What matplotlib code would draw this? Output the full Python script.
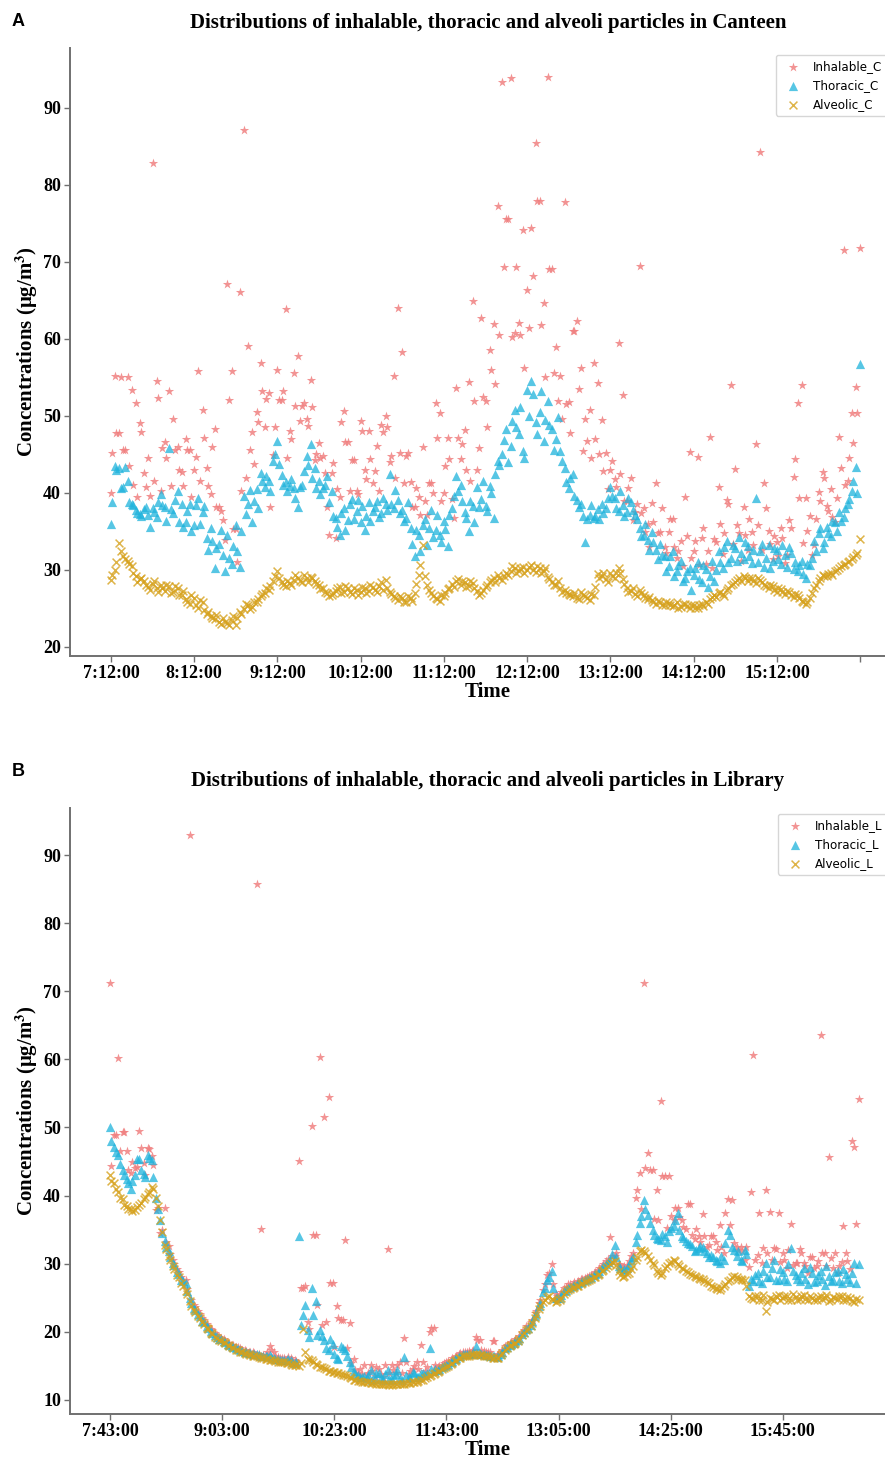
import matplotlib
matplotlib.use("Agg")
import matplotlib.pyplot as plt
import numpy as np

plt.rcParams["mathtext.fontset"] = "stix"

# ---- Canteen (A): readings every 3 samples (two interleaved passes), sample index 0..540
canteen_idx = list(range(0, 541, 3))
canteen_idx2 = list(range(1, 540, 3))

inhalable_c = [
    40.0, 55.2, 47.8, 45.6, 55.0, 53.4, 51.7, 49.1, 42.6, 44.5,
    82.9, 54.5, 40.2, 46.6, 53.3, 49.6, 46.0, 42.7, 47.0, 45.6,
    43.0, 55.8, 50.8, 43.2, 39.8, 48.3, 38.2, 36.5, 67.1, 55.8,
    35.3, 66.1, 87.1, 59.1, 47.9, 50.5, 56.9, 48.5, 53.0, 44.9,
    56.0, 52.1, 63.9, 48.0, 55.6, 57.8, 51.3, 49.6, 54.7, 44.3,
    46.5, 44.8, 38.2, 42.6, 34.2, 39.5, 50.6, 46.6, 44.3, 40.2,
    49.3, 43.0, 48.0, 41.3, 46.1, 48.8, 50.0, 44.0, 55.2, 64.0,
    58.3, 44.8, 41.4, 38.2, 39.5, 46.0, 37.1, 41.3, 51.7, 50.4,
    40.0, 47.2, 39.2, 53.6, 44.4, 48.2, 54.4, 64.9, 43.0, 62.7,
    52.0, 58.6, 61.9, 77.3, 93.4, 75.6, 93.9, 60.8, 62.1, 74.2,
    66.4, 74.4, 85.5, 77.9, 64.7, 94.0, 69.1, 59.0, 55.2, 77.8,
    51.8, 61.0, 62.3, 56.2, 49.6, 50.8, 56.9, 54.3, 49.5, 45.2,
    43.0, 41.8, 59.5, 52.7, 38.9, 42.0, 37.5, 69.5, 38.0, 36.0,
    38.7, 41.3, 34.9, 33.0, 34.9, 36.6, 31.5, 33.7, 39.5, 45.3,
    32.5, 44.7, 34.2, 30.8, 47.3, 34.0, 40.8, 32.1, 39.1, 54.0,
    43.1, 34.8, 38.2, 32.6, 34.9, 46.4, 84.3, 41.3, 35.1, 31.4,
    33.6, 35.5, 30.9, 36.5, 42.1, 51.7, 54.0, 39.4, 37.0, 33.2,
    40.1, 42.7, 38.3, 40.5, 36.2, 47.3, 71.6, 41.5, 50.4, 53.8,
    71.8,
]
inhalable_c2 = [
    45.2, 47.8, 55.0, 45.6, 43.5, 41.0, 39.5, 47.9, 40.8, 39.6,
    41.5, 52.3, 45.8, 44.6, 40.9, 45.6, 43.0, 40.9, 45.6, 39.5,
    44.7, 41.6, 47.2, 40.9, 46.0, 38.2, 37.6, 33.9, 52.1, 35.3,
    31.0, 40.2, 42.0, 45.6, 43.7, 49.2, 53.2, 52.2, 38.2, 48.5,
    52.1, 53.2, 44.6, 47.0, 51.3, 49.3, 51.7, 48.7, 51.2, 45.0,
    44.6, 42.6, 34.5, 43.9, 40.5, 49.2, 46.6, 40.2, 44.3, 39.8,
    48.0, 41.8, 44.4, 42.8, 40.2, 47.9, 48.5, 44.8, 42.0, 45.2,
    41.3, 45.2, 38.2, 40.6, 37.1, 39.0, 41.3, 40.0, 47.2, 39.0,
    43.5, 44.4, 36.8, 47.2, 46.4, 43.0, 41.6, 52.0, 45.8, 52.5,
    48.5, 56.0, 54.2, 60.5, 69.4, 75.6, 60.3, 69.4, 60.5, 56.2,
    61.4, 68.2, 77.9, 61.8, 55.0, 69.1, 55.6, 52.0, 49.6, 51.5,
    47.8, 61.0, 53.5, 45.4, 46.8, 44.6, 47.0, 45.0, 42.8, 40.5,
    44.2, 40.8, 42.5, 38.9, 40.6, 36.5, 38.6, 37.4, 34.9, 33.0,
    36.2, 34.8, 38.0, 32.2, 36.6, 33.0, 32.4, 30.5, 34.4, 31.5,
    33.8, 30.6, 35.4, 32.4, 30.2, 33.6, 36.0, 34.8, 38.6, 33.4,
    35.8, 31.2, 34.6, 36.6, 33.2, 35.8, 32.6, 38.0, 33.4, 34.4,
    31.8, 34.2, 32.0, 35.5, 44.4, 39.4, 33.5, 35.0, 32.0, 36.6,
    39.0, 42.0, 37.6, 36.9, 39.3, 43.2, 41.0, 44.6, 46.5, 50.4,
]

thoracic_c = [
    36.0, 43.5, 43.2, 40.8, 41.6, 38.6, 37.8, 37.3, 37.9, 37.2,
    38.0, 36.9, 39.8, 38.2, 45.8, 37.4, 40.2, 38.5, 36.2, 38.6,
    35.8, 39.3, 37.5, 34.2, 35.5, 30.2, 33.4, 32.0, 34.6, 30.8,
    35.8, 30.4, 39.6, 38.5, 36.2, 40.5, 42.6, 40.8, 41.6, 44.2,
    46.8, 42.3, 41.4, 40.9, 40.6, 38.2, 41.0, 44.8, 46.4, 43.2,
    41.5, 40.6, 42.2, 40.3, 36.8, 34.6, 38.1, 36.5, 39.2, 37.6,
    36.2, 35.2, 38.8, 37.6, 39.0, 37.4, 38.6, 42.4, 38.0, 39.1,
    37.8, 36.8, 35.5, 31.8, 34.5, 35.9, 33.2, 37.8, 35.2, 34.6,
    36.4, 33.1, 38.0, 42.2, 41.0, 37.5, 35.0, 38.3, 40.8, 39.2,
    38.3, 40.9, 36.8, 44.2, 45.0, 48.3, 46.1, 50.8, 47.6, 45.5,
    53.4, 54.5, 49.2, 50.5, 46.8, 52.0, 48.3, 47.0, 45.4, 43.2,
    40.6, 42.5, 39.1, 38.6, 33.6, 37.2, 36.8, 37.9, 38.5, 38.0,
    40.8, 39.3, 37.6, 38.4, 37.5, 38.8, 37.2, 35.5, 34.6, 33.9,
    34.9, 32.6, 33.4, 31.8, 30.5, 32.4, 29.8, 31.2, 28.9, 30.3,
    29.4, 31.0, 28.4, 30.1, 29.2, 28.6, 32.5, 30.2, 33.8, 31.6,
    32.9, 34.3, 31.4, 33.1, 30.9, 39.3, 32.4, 30.4, 33.2, 31.2,
    32.6, 30.8, 31.9, 33.0, 30.1, 29.8, 31.2, 29.0, 30.6, 33.8,
    34.8, 32.9, 35.6, 34.4, 36.2, 37.5, 36.9, 38.6, 40.2, 43.4,
    56.8,
]
thoracic_c2 = [
    38.8, 43.0, 40.6, 43.4, 38.8, 38.4, 37.4, 37.0, 38.2, 35.6,
    37.5, 38.8, 38.4, 36.4, 37.9, 39.1, 36.2, 35.6, 37.6, 35.0,
    38.4, 36.0, 38.3, 32.6, 33.8, 32.8, 35.2, 29.8, 31.6, 33.1,
    32.4, 35.0, 37.3, 40.4, 39.0, 38.0, 41.5, 42.2, 40.2, 45.0,
    43.8, 41.0, 40.2, 41.8, 39.4, 40.8, 42.9, 43.6, 41.9, 40.7,
    39.8, 41.0, 38.8, 37.0, 35.6, 37.4, 35.2, 38.6, 36.6, 39.1,
    38.3, 37.0, 36.4, 38.2, 36.9, 39.4, 37.8, 38.6, 40.4, 37.4,
    36.4, 38.8, 33.4, 35.2, 32.4, 36.6, 35.5, 34.3, 37.1, 33.6,
    35.3, 37.2, 39.6, 40.2, 39.0, 36.7, 38.9, 36.2, 38.2, 41.6,
    37.6, 40.0, 42.5, 43.6, 46.9, 44.0, 49.4, 48.6, 51.2, 44.6,
    50.0, 52.8, 47.7, 53.2, 49.5, 48.8, 45.6, 49.8, 44.2, 41.4,
    41.9, 39.6, 38.2, 37.0, 36.6, 38.4, 37.0, 36.6, 37.4, 39.4,
    39.6, 38.0, 40.2, 37.0, 39.4, 37.8, 36.6, 34.4, 36.0, 32.6,
    33.6, 31.4, 32.0, 29.8, 31.8, 29.2, 30.7, 28.6, 29.8, 27.4,
    30.2, 28.8, 30.6, 27.8, 31.2, 30.0, 31.0, 33.0, 31.0, 33.2,
    31.2, 32.2, 33.6, 31.8, 32.6, 31.0, 33.4, 31.6, 30.2, 32.8,
    31.4, 33.2, 30.4, 32.2, 31.0, 30.6, 29.5, 30.8, 31.6, 32.4,
    35.4, 33.6, 34.8, 36.4, 35.0, 36.4, 38.0, 39.2, 41.6, 40.0,
]

alveolic_c = [
    28.7, 30.0, 33.5, 31.8, 31.2, 30.5, 29.2, 28.8, 28.5, 27.8,
    28.2, 27.6, 28.0, 27.3, 27.9, 27.2, 27.6, 26.8, 26.2, 25.6,
    26.4, 25.0, 25.8, 24.3, 24.0, 23.6, 23.2, 23.8, 23.1, 23.5,
    22.9, 24.6, 24.9, 25.4, 25.2, 25.8, 26.6, 27.0, 27.4, 28.6,
    29.9, 28.4, 27.9, 28.3, 28.7, 29.0, 28.4, 28.9, 29.1, 28.6,
    28.0, 27.6, 27.0, 26.8, 27.3, 27.8, 27.2, 27.6, 26.9, 27.4,
    27.1, 27.6, 27.3, 27.8, 27.2, 28.4, 28.7, 27.2, 26.6, 26.1,
    26.4, 25.9, 26.3, 27.0, 29.4, 33.2, 28.0, 27.0, 26.4, 26.0,
    26.6, 27.5, 28.2, 28.5, 28.1, 28.4, 27.9, 28.3, 27.3, 27.0,
    27.8, 28.4, 28.9, 29.3, 28.7, 29.6, 29.9, 30.3, 29.8, 30.4,
    30.0, 30.6, 29.7, 30.2, 29.9, 29.1, 28.4, 28.0, 27.6, 27.4,
    26.9, 26.6, 26.4, 27.2, 26.6, 26.1, 26.8, 29.5, 29.2, 28.8,
    29.6, 29.0, 30.2, 28.8, 27.6, 27.3, 26.9, 27.4, 26.7, 26.2,
    26.1, 25.6, 25.9, 25.4, 25.7, 25.3, 25.8, 25.2, 25.6, 25.0,
    25.4, 25.1, 25.6, 25.9, 26.2, 26.8, 27.0, 26.9, 27.4, 28.0,
    28.4, 28.9, 29.2, 28.6, 28.9, 28.3, 28.7, 28.1, 27.6, 27.9,
    27.2, 27.5, 26.9, 27.2, 26.5, 26.7, 26.0, 25.6, 26.4, 27.6,
    28.6, 29.4, 29.2, 29.6, 29.9, 30.3, 30.7, 31.0, 31.4, 32.0,
    34.0,
]
alveolic_c2 = [
    29.4, 31.0, 32.4, 31.4, 30.8, 29.6, 28.4, 29.0, 28.1, 27.4,
    28.6, 27.2, 27.7, 28.1, 27.0, 27.9, 26.8, 27.3, 25.9, 26.8,
    25.4, 26.1, 24.8, 24.6, 23.7, 24.1, 23.0, 23.3, 22.8, 24.0,
    23.8, 24.3, 25.6, 24.9, 25.9, 26.2, 26.9, 27.6, 27.9, 29.2,
    29.0, 28.0, 28.5, 28.1, 29.3, 28.6, 29.4, 28.4, 28.9, 28.2,
    27.5, 27.2, 26.6, 27.0, 27.6, 27.0, 27.9, 27.1, 27.6, 26.8,
    27.8, 27.0, 28.0, 27.4, 27.9, 27.4, 27.7, 26.9, 26.3, 26.6,
    25.8, 26.6, 26.0, 28.2, 30.6, 29.2, 27.4, 26.6, 26.2, 26.8,
    27.0, 27.7, 27.8, 28.8, 28.5, 27.8, 28.6, 27.6, 26.8, 27.4,
    28.1, 28.7, 28.4, 29.0, 29.2, 29.3, 30.5, 29.6, 30.2, 29.6,
    30.4, 30.0, 30.5, 29.6, 30.2, 28.8, 28.0, 28.6, 27.1, 27.0,
    26.7, 27.0, 26.2, 26.8, 26.4, 26.9, 27.8, 29.0, 29.6, 28.4,
    29.2, 29.6, 29.6, 28.2, 27.1, 27.6, 26.6, 27.0, 26.4, 26.5,
    25.8, 26.0, 25.5, 25.9, 25.4, 25.5, 25.0, 25.6, 25.3, 25.4,
    25.0, 25.4, 25.3, 25.6, 26.5, 26.5, 27.2, 26.6, 27.6, 28.2,
    28.7, 28.5, 28.9, 29.0, 28.5, 28.9, 28.4, 27.9, 28.0, 27.4,
    27.6, 27.1, 27.3, 26.8, 26.9, 26.4, 25.8, 25.9, 27.0, 28.0,
    28.9, 29.2, 29.5, 29.4, 30.0, 30.5, 30.8, 31.2, 31.7, 32.2,
]

canteen_ticks = list(range(0, 541, 60))
canteen_labels = ["7:12:00", "8:12:00", "9:12:00", "10:12:00", "11:12:00",
                  "12:12:00", "13:12:00", "14:12:00", "15:12:00", ""]

# ---- Library (B): readings every 3 samples (two interleaved passes), sample index 0..534
library_idx = list(range(0, 535, 3))
library_idx2 = list(range(1, 533, 3))

inhalable_l = [
    71.2, 48.9, 60.2, 49.4, 46.5, 43.3, 44.0, 49.5, 44.8, 47.0,
    45.8, 37.9, 34.5, 38.2, 32.6, 30.6, 29.2, 28.0, 27.6, 93.0,
    24.0, 23.0, 22.0, 21.1, 20.4, 19.8, 19.2, 18.9, 18.4, 18.1,
    17.8, 17.6, 17.3, 17.1, 17.0, 85.8, 35.1, 16.6, 17.9, 17.1,
    16.3, 16.2, 16.0, 16.2, 15.8, 45.1, 26.4, 21.5, 50.2, 34.2,
    60.4, 51.6, 54.5, 27.2, 23.8, 21.7, 33.5, 21.3, 16.0, 14.0,
    13.8, 13.6, 15.2, 13.5, 14.5, 13.4, 32.1, 15.2, 14.0, 15.5,
    19.1, 13.8, 14.6, 15.5, 18.0, 14.2, 20.0, 20.5, 14.8, 15.2,
    15.5, 15.9, 16.3, 16.7, 17.0, 17.1, 17.2, 19.3, 18.8, 17.2,
    17.0, 18.6, 16.6, 17.1, 17.9, 18.4, 18.7, 19.1, 20.0, 20.8,
    21.5, 22.8, 24.2, 26.2, 28.4, 30.0, 25.5, 25.4, 26.4, 27.0,
    27.0, 27.3, 27.7, 27.9, 28.2, 28.7, 29.1, 29.7, 30.4, 33.9,
    31.1, 30.0, 29.5, 29.8, 31.1, 39.7, 43.3, 71.2, 46.2, 43.8,
    40.8, 53.9, 42.9, 42.9, 36.4, 38.2, 36.4, 35.1, 38.8, 33.6,
    34.0, 37.3, 32.4, 34.0, 33.2, 35.7, 31.5, 39.5, 39.4, 32.4,
    32.4, 30.6, 29.5, 60.7, 31.3, 30.1, 40.8, 37.6, 32.3, 37.4,
    31.6, 29.3, 35.8, 30.1, 32.1, 30.1, 28.6, 31.0, 29.6, 63.6,
    31.5, 45.7, 29.4, 28.7, 30.2, 31.6, 29.2, 47.1, 54.2,
]
inhalable_l2 = [
    44.3, 48.9, 46.5, 49.4, 43.8, 45.0, 44.2, 47.0, 43.0, 46.8,
    44.5, 38.2, 35.0, 33.2, 31.4, 30.0, 28.8, 27.6, 26.3, 24.6,
    23.6, 22.6, 21.7, 20.9, 20.2, 19.6, 19.1, 18.7, 18.3, 18.0,
    17.7, 17.4, 17.2, 17.1, 16.9, 16.8, 16.6, 17.1, 17.3, 16.4,
    16.2, 16.1, 16.3, 15.9, 15.7, 26.4, 26.8, 20.4, 34.2, 24.0,
    21.0, 21.5, 27.2, 17.8, 22.0, 21.7, 17.6, 15.4, 14.4, 14.6,
    15.1, 14.0, 14.2, 14.8, 13.8, 15.2, 14.0, 14.4, 15.2, 14.0,
    15.5, 14.2, 15.0, 14.6, 15.5, 14.8, 20.5, 15.2, 15.0, 15.4,
    15.7, 16.1, 16.5, 16.9, 17.1, 17.2, 17.3, 18.8, 17.4, 17.1,
    17.0, 18.6, 16.7, 17.4, 18.1, 18.5, 18.9, 19.4, 20.3, 20.9,
    21.8, 23.1, 24.6, 27.0, 28.6, 27.0, 25.3, 25.8, 26.6, 27.0,
    27.3, 27.4, 27.8, 28.1, 28.4, 28.8, 29.3, 29.9, 30.7, 31.1,
    31.6, 29.8, 29.6, 30.4, 31.6, 40.8, 38.0, 44.0, 43.8, 36.6,
    36.4, 42.9, 35.2, 37.0, 38.2, 36.8, 35.4, 38.8, 34.2, 35.1,
    33.2, 34.0, 32.8, 34.0, 32.0, 32.4, 37.4, 35.7, 33.0, 32.0,
    31.8, 32.4, 40.5, 30.6, 37.5, 32.3, 31.6, 30.6, 32.1, 30.2,
    30.6, 32.0, 29.8, 30.1, 31.6, 29.6, 31.0, 29.4, 30.4, 31.5,
    29.6, 30.8, 31.6, 29.6, 35.5, 30.4, 48.0, 35.8,
]

thoracic_l = [
    50.0, 47.1, 46.0, 43.8, 42.5, 41.0, 43.0, 45.4, 43.2, 45.9,
    45.2, 39.6, 36.4, 33.3, 31.8, 30.1, 28.8, 27.6, 27.2, 24.9,
    23.5, 22.6, 21.6, 20.8, 20.1, 19.5, 19.0, 18.6, 18.2, 17.9,
    17.6, 17.3, 17.1, 16.9, 16.7, 16.8, 16.5, 16.4, 16.6, 16.1,
    16.0, 15.9, 15.8, 15.9, 15.4, 34.1, 22.5, 20.3, 26.4, 24.5,
    20.3, 18.8, 17.4, 18.2, 16.2, 17.9, 17.4, 15.5, 14.2, 13.6,
    13.4, 13.2, 14.4, 13.1, 13.9, 13.0, 14.4, 12.9, 13.8, 13.2,
    16.3, 13.3, 14.1, 13.3, 13.9, 13.7, 17.6, 14.3, 14.4, 14.8,
    15.2, 15.6, 16.0, 16.4, 16.7, 16.7, 16.8, 17.9, 16.8, 16.7,
    16.6, 16.4, 16.3, 16.8, 17.6, 18.1, 18.4, 18.8, 19.7, 20.4,
    21.0, 22.3, 23.8, 25.8, 27.6, 28.9, 25.0, 25.0, 26.0, 26.5,
    26.8, 27.0, 27.3, 27.6, 27.9, 28.4, 28.7, 29.3, 29.9, 30.6,
    32.8, 29.6, 29.0, 29.4, 30.6, 33.2, 36.0, 39.4, 37.2, 35.0,
    33.8, 33.5, 34.0, 34.8, 35.6, 37.5, 34.0, 33.3, 32.9, 31.8,
    32.3, 32.5, 31.6, 31.3, 30.6, 30.1, 30.5, 35.0, 32.5, 31.2,
    30.6, 32.0, 26.7, 27.5, 28.6, 27.2, 30.1, 28.0, 30.6, 27.6,
    28.8, 27.4, 32.3, 28.3, 27.5, 29.3, 27.0, 28.7, 27.4, 28.9,
    26.9, 28.2, 27.6, 29.0, 27.1, 28.5, 27.3, 30.1, 29.9,
]
thoracic_l2 = [
    48.0, 46.4, 44.6, 43.0, 41.8, 42.2, 45.4, 43.7, 42.8, 45.5,
    42.8, 38.0, 34.5, 32.5, 31.0, 29.8, 28.5, 27.4, 26.0, 24.2,
    23.2, 22.3, 21.4, 20.6, 19.9, 19.3, 18.9, 18.5, 18.1, 17.8,
    17.5, 17.2, 17.0, 16.9, 16.7, 16.6, 16.4, 16.5, 16.3, 16.0,
    15.9, 15.9, 16.0, 15.6, 15.5, 21.0, 24.0, 19.2, 22.4, 19.6,
    19.4, 17.6, 18.9, 16.8, 16.0, 17.6, 16.4, 14.8, 13.8, 13.4,
    13.5, 13.6, 13.0, 14.0, 13.2, 13.8, 13.1, 13.6, 14.4, 13.0,
    13.6, 13.2, 13.9, 13.4, 14.0, 13.9, 14.6, 14.6, 14.5, 15.0,
    15.3, 15.7, 16.2, 16.5, 16.7, 16.8, 16.9, 16.9, 16.7, 16.6,
    16.5, 16.4, 16.4, 17.1, 17.8, 18.2, 18.6, 19.1, 20.0, 20.6,
    21.6, 22.8, 24.3, 26.4, 28.0, 26.4, 24.9, 25.4, 26.2, 26.6,
    26.9, 27.1, 27.4, 27.8, 28.1, 28.5, 28.9, 29.6, 30.2, 31.4,
    31.0, 29.3, 29.2, 29.8, 31.0, 34.2, 37.0, 38.0, 36.0, 34.2,
    33.6, 34.4, 33.2, 35.2, 36.4, 35.0, 33.8, 33.0, 32.6, 32.0,
    32.6, 31.9, 31.0, 31.0, 30.4, 31.2, 33.0, 34.2, 32.0, 31.8,
    30.4, 31.4, 27.8, 28.3, 27.4, 29.0, 28.0, 29.4, 27.6, 29.2,
    27.8, 30.0, 29.0, 27.8, 28.6, 27.8, 29.5, 27.3, 28.4, 27.8,
    29.6, 27.4, 28.8, 27.5, 29.2, 27.8, 28.7, 27.2,
]

alveolic_l = [
    43.0, 41.8, 40.6, 39.5, 38.4, 38.0, 37.9, 38.6, 39.5, 40.3,
    41.2, 39.6, 36.4, 32.8, 31.2, 29.6, 28.4, 27.2, 26.0, 24.5,
    23.2, 22.3, 21.4, 20.6, 19.9, 19.3, 18.8, 18.5, 18.0, 17.7,
    17.4, 17.1, 16.9, 16.7, 16.5, 16.4, 16.2, 16.0, 15.9, 15.8,
    15.6, 15.5, 15.4, 15.3, 15.1, 15.0, 20.4, 16.0, 15.8, 15.3,
    14.9, 14.7, 14.3, 14.1, 14.0, 13.8, 13.6, 13.3, 13.0, 12.8,
    12.7, 12.6, 12.5, 12.5, 12.4, 12.3, 12.3, 12.2, 12.3, 12.4,
    12.4, 12.5, 12.6, 12.7, 12.9, 13.2, 13.5, 13.8, 14.1, 14.5,
    14.9, 15.3, 15.7, 16.1, 16.4, 16.5, 16.6, 16.7, 16.6, 16.5,
    16.4, 16.2, 16.1, 16.6, 17.4, 17.9, 18.2, 18.6, 19.5, 20.2,
    20.8, 22.0, 23.4, 24.4, 25.1, 24.8, 24.4, 24.7, 25.6, 26.2,
    26.5, 26.7, 27.0, 27.3, 27.6, 28.0, 28.3, 28.9, 29.4, 30.0,
    30.4, 28.9, 28.1, 28.5, 29.2, 30.6, 31.8, 31.9, 31.1, 30.1,
    29.0, 28.3, 29.4, 30.1, 30.5, 29.9, 29.4, 28.9, 28.5, 28.2,
    27.9, 27.7, 27.3, 26.8, 26.4, 26.2, 26.8, 27.4, 28.1, 28.0,
    27.7, 27.6, 25.2, 24.8, 25.3, 24.6, 23.1, 25.0, 24.7, 25.4,
    24.9, 25.2, 24.6, 25.1, 24.8, 25.4, 24.6, 25.0, 24.7, 25.3,
    24.9, 24.5, 25.1, 24.8, 25.2, 24.6, 24.9, 24.4, 24.7,
]
alveolic_l2 = [
    42.2, 41.0, 39.6, 38.6, 38.1, 37.8, 38.3, 38.9, 39.8, 40.6,
    41.0, 38.4, 34.6, 32.1, 30.6, 29.2, 28.0, 26.8, 25.5, 23.8,
    22.9, 22.0, 21.1, 20.4, 19.7, 19.1, 18.7, 18.3, 17.9, 17.6,
    17.3, 17.0, 16.8, 16.6, 16.5, 16.3, 16.1, 16.0, 15.9, 15.7,
    15.6, 15.5, 15.4, 15.2, 15.1, 15.4, 17.0, 15.9, 15.6, 15.1,
    14.8, 14.5, 14.2, 14.1, 13.9, 13.7, 13.5, 13.2, 12.9, 12.8,
    12.6, 12.6, 12.5, 12.4, 12.4, 12.3, 12.2, 12.3, 12.3, 12.4,
    12.5, 12.5, 12.6, 12.8, 13.0, 13.3, 13.6, 13.9, 14.3, 14.7,
    15.0, 15.4, 15.9, 16.2, 16.4, 16.5, 16.7, 16.6, 16.6, 16.4,
    16.3, 16.2, 16.2, 16.9, 17.6, 18.0, 18.4, 18.9, 19.8, 20.4,
    21.3, 22.5, 23.8, 24.7, 25.2, 24.6, 24.5, 25.0, 25.8, 26.3,
    26.6, 26.8, 27.1, 27.4, 27.8, 28.1, 28.5, 29.1, 29.6, 30.2,
    29.8, 28.4, 28.2, 28.7, 29.6, 31.0, 32.0, 31.6, 30.6, 29.8,
    28.6, 28.6, 29.6, 30.3, 30.4, 29.7, 29.2, 28.8, 28.4, 28.1,
    27.8, 27.5, 27.1, 26.6, 26.3, 26.4, 27.0, 27.6, 28.2, 27.8,
    27.6, 26.8, 24.9, 25.2, 24.7, 25.4, 24.4, 24.8, 25.3, 24.6,
    25.3, 24.7, 25.5, 24.6, 25.2, 24.8, 25.3, 24.6, 25.1, 24.8,
    25.4, 24.7, 24.9, 25.3, 24.7, 25.1, 24.5, 24.8,
]

library_ticks = list(range(0, 481, 80))
library_labels = ["7:43:00", "9:03:00", "10:23:00", "11:43:00",
                  "13:05:00", "14:25:00", "15:45:00"]

STAR = "#f08080"
TRI = "#1fb3dc"
GOLD = "#d6a11c"
SERIF = "Liberation Serif"


def draw_panel(ax, x, x2, inh, tho, alv, names, title, ticks, labels, ylim, xlim,
               yticks, title_pad, legend_at):
    ax.scatter(x + x2, inh, marker="*", s=50, color=STAR, alpha=0.85, linewidths=0, label=names[0])
    ax.scatter(x + x2, tho, marker="^", s=44, color=TRI, alpha=0.75, linewidths=0, label=names[1])
    ax.scatter(x + x2, alv, marker="x", s=32, color=GOLD, alpha=0.8, linewidths=1.1, label=names[2])

    ax.set_xlim(*xlim)
    ax.set_ylim(*ylim)
    ax.set_xticks(ticks)
    ax.set_xticklabels(labels)
    ax.set_yticks(yticks)

    for side in ("top", "right"):
        ax.spines[side].set_visible(False)
    for side in ("left", "bottom"):
        ax.spines[side].set_color("#707070")
        ax.spines[side].set_linewidth(1.4)
    ax.tick_params(direction="out", length=4, width=1, color="#707070", pad=2.5)
    for lab in ax.get_xticklabels() + ax.get_yticklabels():
        lab.set_fontfamily(SERIF)
        lab.set_fontweight("bold")
        lab.set_fontsize(13)

    ax.set_title(title, fontfamily=SERIF, fontweight="bold", fontsize=15, pad=title_pad)
    ax.set_xlabel("Time", fontfamily=SERIF, fontweight="bold", fontsize=15, labelpad=0)
    ax.set_ylabel(r"Concentrations (μg/m$^{\mathbf{3}}$)", fontfamily=SERIF,
                  fontweight="bold", fontsize=15, labelpad=2.5)

    leg = ax.legend(loc="upper left", bbox_to_anchor=legend_at,
                    bbox_transform=ax.figure.transFigure, fontsize=8.6, borderaxespad=0,
                    handletextpad=0.7, borderpad=0.4, labelspacing=0.5, frameon=True,
                    fancybox=True)
    leg.get_frame().set_edgecolor("#cccccc")
    for t in leg.get_texts():
        t.set_fontfamily("DejaVu Sans")


fig = plt.figure(figsize=(8.85, 14.58), dpi=100)
ax1 = fig.add_axes([0.0791, 0.5501, 0.9446, 0.4170])
ax2 = fig.add_axes([0.0791, 0.0302, 0.9446, 0.4156])

draw_panel(ax1, canteen_idx, canteen_idx2, inhalable_c + inhalable_c2,
           thoracic_c + thoracic_c2, alveolic_c + alveolic_c2,
           ["Inhalable_C", "Thoracic_C", "Alveolic_C"],
           "Distributions of inhalable, thoracic and alveoli particles in Canteen",
           canteen_ticks, canteen_labels, (18.83, 97.79), (-29.5, 573.0),
           np.arange(20, 91, 10), 14.5, (776 / 885, 1 - 55 / 1458))
draw_panel(ax2, library_idx, library_idx2, inhalable_l + inhalable_l2,
           thoracic_l + thoracic_l2, alveolic_l + alveolic_l2,
           ["Inhalable_L", "Thoracic_L", "Alveolic_L"],
           "Distributions of inhalable, thoracic and alveoli particles in Library",
           library_ticks, library_labels, (7.94, 96.9), (-28.5, 567.8),
           np.arange(10, 91, 10), 16, (778 / 885, 1 - 814 / 1458))

fig.text(18 / 885, 1 - 22 / 1458, "A", fontfamily="Liberation Sans", fontweight="bold",
         fontsize=13, ha="center", va="center")
fig.text(18 / 885, 1 - 771 / 1458, "B", fontfamily="Liberation Sans", fontweight="bold",
         fontsize=13, ha="center", va="center")

fig.savefig("out.png", dpi=100)
